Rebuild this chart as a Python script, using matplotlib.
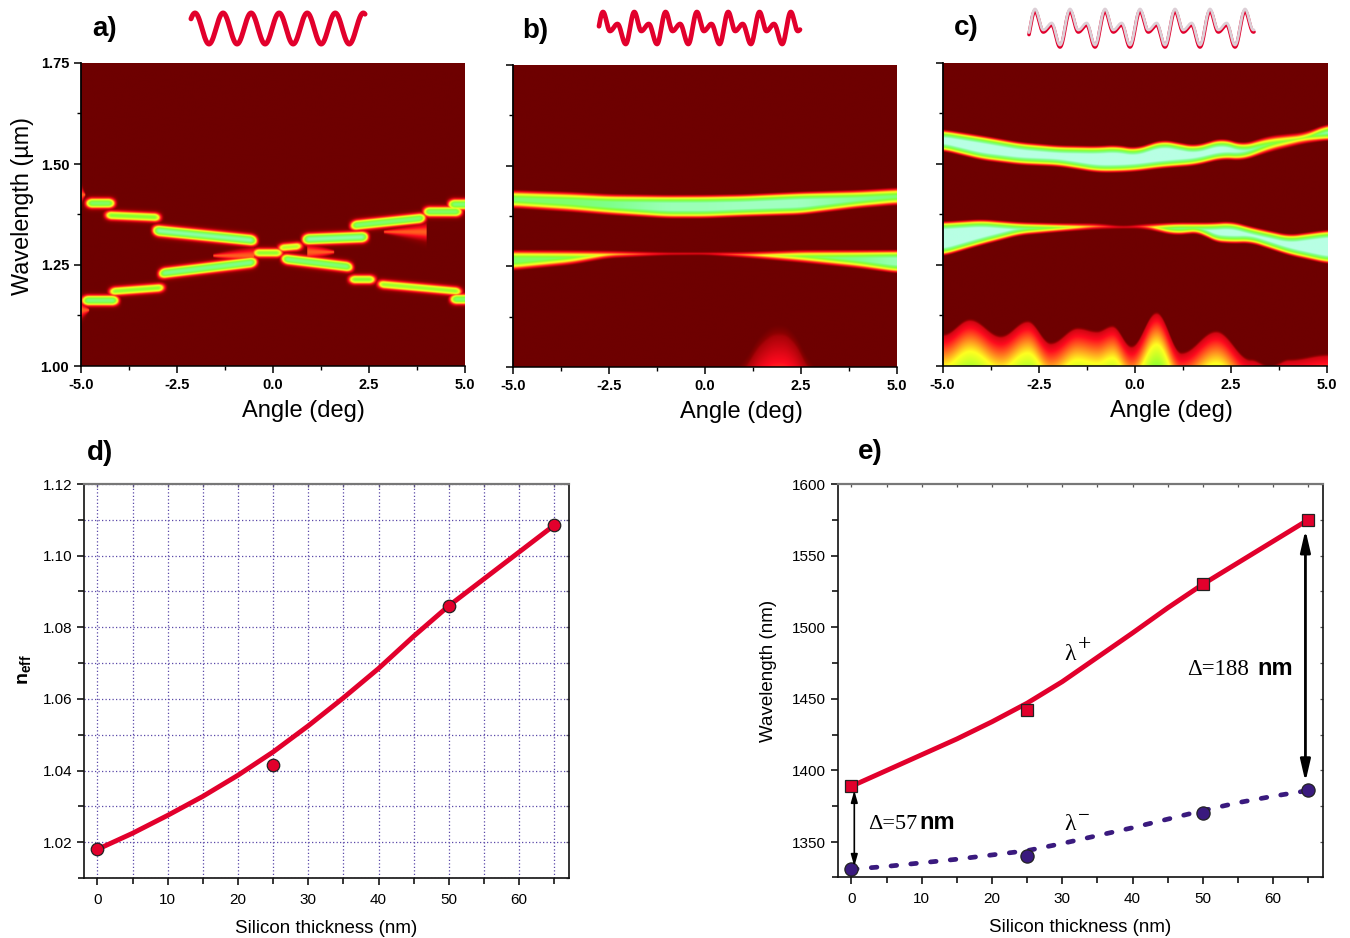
import numpy as np
import matplotlib
matplotlib.use('Agg')
import matplotlib.pyplot as plt
from matplotlib.colors import LinearSegmentedColormap
from matplotlib.ticker import MultipleLocator, FormatStrFormatter

plt.rcParams['font.family'] = ['Liberation Sans', 'DejaVu Sans']
plt.rcParams['mathtext.fontset'] = 'custom'
plt.rcParams['mathtext.bf'] = 'Liberation Sans:bold'
plt.rcParams['mathtext.rm'] = 'Liberation Sans'

W, H = 1350, 938

# panel a: bright segments along the crossing branches
a_x0 = [-5.0, -4.5, -3.25, -3.1, -4.4, -5.1, -0.65, 0.0, 0.1, 0.65, 1.9, 3.8, 4.45, 1.85, 2.6, 4.5]
a_x1 = [-4.0, -2.8, -0.3, -0.3, -2.7, -3.9, 0.38, 0.9, 2.2, 2.6, 4.1, 5.05, 5.3, 2.8, 5.05, 5.3]
a_y0 = [1.403, 1.374, 1.337, 1.227, 1.183, 1.162, 1.280, 1.291, 1.267, 1.313, 1.346, 1.382, 1.400, 1.214, 1.204, 1.165]
a_y1 = [1.403, 1.367, 1.309, 1.259, 1.195, 1.162, 1.280, 1.298, 1.243, 1.320, 1.368, 1.382, 1.400, 1.214, 1.183, 1.165]
a_peak = [0.72, 0.6, 0.86, 0.8, 0.58, 0.76, 0.58, 0.52, 0.76, 0.86, 0.74, 0.72, 0.76, 0.6, 0.56, 0.72]
a_faint_x0 = [-1.55, 0.9, 2.9, -5.0, -5.0]
a_faint_x1 = [-0.5, 1.6, 4.0, -4.8, -4.9]
a_faint_y = [1.273, 1.282, 1.332, 1.138, 1.424]
a_faint_dir = [1, -1, 1, -1, -1]

# panel b: outer edges of the two bands
b_angle = [-5.0, -3.5, -2.5, -1.0, 0.0, 1.0, 2.5, 4.0, 5.0]
b_up_top = [1.4396, 1.435, 1.4296, 1.4272, 1.4275, 1.429, 1.4354, 1.4396, 1.4454]
b_up_bot = [1.394, 1.385, 1.3775, 1.369, 1.369, 1.373, 1.3775, 1.394, 1.402]
b_low_top = [1.2906, 1.2900, 1.289, 1.2848, 1.2848, 1.2856, 1.2906, 1.2906, 1.2906]
b_low_bot = [1.2392, 1.2533, 1.2699, 1.2773, 1.2781, 1.2715, 1.2591, 1.245, 1.2326]
b_up_peak = [0.72, 0.74, 0.8, 0.9, 0.9, 0.92, 0.92, 0.82, 0.75]
b_low_peak = [0.7, 0.7, 0.7, 0.7, 0.7, 0.75, 0.75, 0.8, 0.9]
b_glow_angle = [0.95, 1.2, 1.55, 1.95, 2.3, 2.55, 2.75]
b_glow_top = [0.0, 0.05, 0.095, 0.1126, 0.095, 0.055, 0.0]

# panel c: edges of the two bands and the glow at short wavelength
c_up_angle = [-5.0, -4.0, -3.0, -2.0, -1.0, -0.5, 0.0, 0.7, 1.55, 2.25, 2.8, 3.5, 4.4, 5.0]
c_up_top = [1.5856, 1.5707, 1.5541, 1.5459, 1.5442, 1.5475, 1.5392, 1.5607, 1.5458, 1.5648, 1.5499, 1.5706, 1.5789, 1.5995]
c_up_bot = [1.5326, 1.5095, 1.4979, 1.4938, 1.4789, 1.4789, 1.4814, 1.4896, 1.4959, 1.5120, 1.5086, 1.5301, 1.5508, 1.5590]
c_up_peak = [1.0, 1.0, 1.0, 1.0, 1.0, 1.0, 1.0, 1.0, 1.0, 1.0, 0.95, 0.66, 0.68, 0.95]
c_low_angle = [-5.0, -4.0, -3.0, -2.0, -1.0, -0.3, 0.2, 1.0, 1.7, 2.0, 2.5, 3.0, 4.0, 5.0]
c_low_top = [1.3573, 1.3631, 1.3557, 1.3532, 1.3532, 1.3466, 1.3515, 1.3549, 1.3549, 1.3549, 1.3582, 1.3449, 1.3243, 1.3367]
c_low_bot = [1.2717, 1.2990, 1.3234, 1.3318, 1.3384, 1.3400, 1.3400, 1.3235, 1.3293, 1.3070, 1.3028, 1.3045, 1.2734, 1.2527]
c_low_peak = [1.0, 1.0, 1.0, 1.0, 0.7, 0.6, 0.7, 1.0, 1.0, 1.0, 1.0, 1.0, 1.0, 1.0]
c_glow_angle = [-5.0, -4.3, -3.5, -2.8, -2.2, -1.5, -1.0, -0.6, -0.1, 0.55, 1.2, 2.1, 3.0, 3.5, 4.0, 5.0]
c_glow_top = [0.081, 0.118, 0.077, 0.114, 0.06, 0.097, 0.089, 0.102, 0.052, 0.135, 0.036, 0.089, 0.019, 0.0025, 0.019, 0.031]

# panel d
si_thick = [0, 25, 50, 65]
neff_pts = [1.018, 1.0415, 1.086, 1.1085]
line_thick = [0, 5, 10, 15, 20, 25, 30, 35, 40, 45, 50, 55, 60, 65]
neff_line = [1.018, 1.0225, 1.0275, 1.0328, 1.0387, 1.0452, 1.0525, 1.0603, 1.0685, 1.0775, 1.086, 1.0935, 1.101, 1.1085]

# panel e
lam_plus_pts = [1389, 1442, 1530, 1575]
lam_minus_pts = [1331, 1340, 1370, 1386]
lam_plus_line = [1389, 1400, 1411, 1422, 1434, 1447, 1462, 1479, 1496, 1513.5, 1530, 1545, 1560, 1575]
lam_minus_line = [1331, 1333, 1335.5, 1338, 1341, 1344, 1349, 1354.5, 1360, 1366, 1372, 1377.5, 1382, 1386]

# grating profiles above the maps: (offset within one period in px, y in px)
icon_a_t = [0.0, 14.0]
icon_a_y = [13, 44]
icon_b_t = [0.0, 7.0, 14.5, 22.7]
icon_b_y = [12, 31, 24, 44]
icon_c_t = [0.0, 8.3, 16.7, 25.0]
icon_c_y = [11, 32, 25, 47]

RED = '#e2002c'
BLUE = '#3a1a7e'
GRID = '#5a48a8'
DARK = '#6e0000'

heat = LinearSegmentedColormap.from_list('heat', [
    (0.0, DARK), (0.06, '#8a0000'), (0.2, '#ff0a1e'), (0.4, '#ffff20'),
    (0.6, '#84ff30'), (0.8, '#7dff8a'), (1.0, '#b8ffe4')])

ang = np.linspace(-5, 5, 801)
wav = np.linspace(1.0, 1.75, 901)
AA, YY = np.meshgrid(ang, wav)


def px_axes(left, right, top, bottom):
    return plt.axes([left / W, 1 - bottom / H, (right - left) / W, (bottom - top) / H])


def smooth(nodes_x, nodes_y, box=41):
    y = np.interp(ang, nodes_x, nodes_y)
    pad = box // 2
    y = np.concatenate([np.full(pad, y[0]), y, np.full(pad, y[-1])])
    return np.convolve(y, np.ones(box) / box, mode='valid')


def eased(x, xs, ys):
    # cosine easing between successive crests and troughs
    xs, ys = np.asarray(xs, dtype=float), np.asarray(ys, dtype=float)
    i = np.clip(np.searchsorted(xs, x) - 1, 0, len(xs) - 2)
    u = np.clip((x - xs[i]) / (xs[i + 1] - xs[i]), 0, 1)
    return ys[i] + (ys[i + 1] - ys[i]) * (1 - np.cos(np.pi * u)) / 2


def band(nodes, top, bot, peak):
    t = smooth(nodes, top)[None, :]
    b = smooth(nodes, bot)[None, :]
    p = smooth(nodes, peak)[None, :]
    dist = np.minimum(YY - b, t - YY) + 0.002
    return p * np.clip(dist / 0.022, 0, 1)


def glow(t, base, slope, soft):
    d = t[None, :] - (YY - 1.0)
    return np.clip(d / soft, 0, 1) * (base + slope * np.clip(d, 0, None))


def smoothstep(u):
    u = np.clip(u, 0, 1)
    return u * u * (3 - 2 * u)


def field_a():
    z = np.zeros_like(AA)
    for x0, x1, y0, y1, p in zip(a_x0, a_x1, a_y0, a_y1, a_peak):
        c = y0 + (y1 - y0) * np.clip((AA - x0) / (x1 - x0), 0, 1)
        win = smoothstep((AA - x0) / 0.3) * smoothstep((x1 - AA) / 0.3)
        z = np.maximum(z, p * win * np.exp(-((YY - c) / (0.0075 + 0.006 * p)) ** 2))
    for x0, x1, y, d in zip(a_faint_x0, a_faint_x1, a_faint_y, a_faint_dir):
        u = np.clip((AA - x0) / (x1 - x0), 0, 1)
        u = u if d > 0 else 1 - u
        inside = (AA >= x0) & (AA <= x1)
        z = np.maximum(z, 0.27 * inside * np.exp(-((YY - y) / (0.004 + 0.018 * u)) ** 2))
    return z


def field_b():
    z = np.maximum(band(b_angle, b_up_top, b_up_bot, b_up_peak),
                   band(b_angle, b_low_top, b_low_bot, b_low_peak))
    return np.maximum(z, glow(smooth(b_glow_angle, b_glow_top), 0.05, 1.6, 0.03))


def field_c():
    z = np.maximum(band(c_up_angle, c_up_top, c_up_bot, c_up_peak),
                   band(c_low_angle, c_low_top, c_low_bot, c_low_peak))
    return np.maximum(z, glow(eased(ang, c_glow_angle, c_glow_top), 0.12, 3.4, 0.008))


def map_panel(box, z, ylabels, label_x):
    ax = px_axes(*box)
    ax.imshow(z, origin='lower', extent=[-5, 5, 1.0, 1.75], aspect='auto',
              cmap=heat, vmin=0, vmax=1, interpolation='bilinear')
    ax.set_xlim(-5, 5)
    ax.set_ylim(1.0, 1.75)
    ax.set_xticks([-5, -2.5, 0, 2.5, 5])
    ax.set_yticks([1.0, 1.25, 1.5, 1.75])
    ax.xaxis.set_major_formatter(FormatStrFormatter('%.1f'))
    ax.yaxis.set_major_formatter(FormatStrFormatter('%.2f'))
    ax.set_xticks([-3.75, -1.25, 1.25, 3.75], minor=True)
    ax.set_yticks([1.125, 1.375, 1.625], minor=True)
    ax.tick_params(which='major', length=5, width=1.1, labelsize=10.5)
    ax.tick_params(which='minor', length=3, width=1)
    ax.tick_params(axis='y', labelleft=ylabels)
    for lab in ax.get_xticklabels() + ax.get_yticklabels():
        lab.set_fontweight('bold')
    for s in ['top', 'right']:
        ax.spines[s].set_visible(False)
    ax.spines['left'].set_linewidth(1.3)
    ax.spines['bottom'].set_linewidth(1.1)
    ax.set_xlabel('Angle (deg)', fontsize=17, labelpad=6)
    ax.xaxis.label.set_x(label_x)
    return ax


def style_line_axes(ax, y_major, y_minor):
    ax.set_xlim(-1.92, 67.1)
    ax.set_xticks(range(0, 61, 10))
    ax.xaxis.set_minor_locator(MultipleLocator(5))
    ax.set_yticks(y_major)
    ax.set_yticks(y_minor, minor=True)
    ax.tick_params(which='both', labelsize=11, width=1.1)
    ax.tick_params(axis='x', which='both', pad=6)
    ax.tick_params(which='major', length=5)
    ax.tick_params(which='minor', length=4)
    ax.set_xlabel('Silicon thickness (nm)', fontsize=13.5, labelpad=9)
    # inward ticks on the far sides, outward ones on the labelled sides
    top = ax.secondary_xaxis('top')
    top.set_xticks(list(range(0, 66, 5)))
    top.tick_params(direction='in', length=2.5, width=0.9, color='#555555', labeltop=False)
    top.spines['top'].set_visible(False)
    right = ax.secondary_yaxis('right')
    right.set_yticks(sorted(list(y_major) + list(y_minor)))
    right.tick_params(direction='in', length=2.5, width=0.9, color='#555555', labelright=False)
    right.spines['right'].set_visible(False)
    for s in ax.spines.values():
        s.set_linewidth(1.2)
        s.set_color('#111111')
    ax.spines['top'].set_color('#777777')
    ax.spines['top'].set_linewidth(1.6)


fig = plt.figure(figsize=(W / 100, H / 100), dpi=100)

# maps
ax_a = map_panel((81, 465, 63, 366), field_a(), True, 0.58)
ax_a.set_ylabel('Wavelength (\u00b5m)', fontsize=16.8)
ax_a.yaxis.set_label_coords(-0.122, 0.528)
map_panel((513, 897, 65, 367), field_b(), False, 0.594)
map_panel((942.5, 1327, 63, 366), field_c(), False, 0.595)

# panel d
ax_d = px_axes(84, 569, 484, 878)
style_line_axes(ax_d, [1.02, 1.04, 1.06, 1.08, 1.10, 1.12], [1.01, 1.03, 1.05, 1.07, 1.09, 1.11])
ax_d.set_ylim(1.01, 1.12)
ax_d.yaxis.set_major_formatter(FormatStrFormatter('%.2f'))
ax_d.grid(which='both', color=GRID, linestyle=(0, (1, 1.8)), linewidth=0.9)
ax_d.set_axisbelow(True)
ax_d.plot(line_thick, neff_line, color=RED, lw=3.5, solid_capstyle='round')
ax_d.plot(si_thick, neff_pts, 'o', color=RED, ms=9, mec='#222222', mew=0.9, clip_on=False)
ax_d.set_ylabel(r'$\mathbf{n_{eff}}$', fontsize=14)
ax_d.yaxis.set_label_coords(-0.105, 0.528)

# panel e
ax_e = px_axes(838, 1323, 484, 877)
style_line_axes(ax_e, [1350, 1400, 1450, 1500, 1550, 1600], [1325.6, 1375, 1425, 1475, 1525, 1575])
ax_e.set_ylim(1325.6, 1600)
ax_e.plot(line_thick, lam_plus_line, color=RED, lw=3.5, solid_capstyle='round')
ax_e.plot(line_thick, lam_minus_line, color=BLUE, lw=3.4, linestyle=(0, (1.2, 3.0)),
          dash_capstyle='round')
ax_e.plot(si_thick, lam_plus_pts, 's', color=RED, ms=9, mec='#222222', mew=0.9, clip_on=False)
ax_e.plot(si_thick, lam_minus_pts, 'o', color=BLUE, ms=9.5, mec='#222222', mew=0.9, clip_on=False)
ax_e.set_ylabel('Wavelength (nm)', fontsize=13.5)
ax_e.yaxis.set_label_coords(-0.125, 0.524)
ax_e.annotate('', xy=(0.4, 1333), xytext=(0.4, 1386),
              arrowprops=dict(arrowstyle='<|-|>,head_width=0.2,head_length=0.7', color='black',
                              lw=1.2, shrinkA=0, shrinkB=0))
ax_e.annotate('', xy=(64.6, 1392), xytext=(64.6, 1568),
              arrowprops=dict(arrowstyle='<|-|>,head_width=0.3,head_length=1.3', color='black',
                              lw=2.0, shrinkA=0, shrinkB=0))
SERIF = 'Liberation Serif'
ax_e.text(47.7, 1466.6, '\u0394=188', family=SERIF, fontsize=16.5, va='baseline')
ax_e.text(57.8, 1466.6, 'nm', fontsize=17, fontweight='bold', va='baseline')
ax_e.text(2.3, 1359, '\u0394=57', family=SERIF, fontsize=16, va='baseline')
ax_e.text(9.7, 1359, 'nm', fontsize=17, fontweight='bold', va='baseline')
ax_e.text(30.3, 1477, '\u03bb', family=SERIF, fontsize=17, va='baseline')
ax_e.text(32.2, 1484, '+', family=SERIF, fontsize=17, va='baseline')
ax_e.text(30.3, 1358.4, '\u03bb', family=SERIF, fontsize=17, va='baseline')
ax_e.text(32.2, 1365, '\u2212', family=SERIF, fontsize=15, va='baseline')

# overlay in pixel units for panel letters and the grating sketches
ov = fig.add_axes([0, 0, 1, 1], zorder=5)
ov.set_xlim(0, W)
ov.set_ylim(H, 0)
ov.axis('off')
for label, x, y in [('a)', 92, 29), ('b)', 522, 31), ('c)', 954, 28), ('d)', 87, 453), ('e)', 858, 452)]:
    ov.text(x, y, label, fontsize=20, fontweight='bold', va='center')


def grating(first_crest, x_start, x_end, period, nodes_t, nodes_y):
    ts, ys = [], []
    n = int(np.ceil((x_end - first_crest) / period)) + 1
    for k in range(-1, n):
        for t, y in zip(nodes_t, nodes_y):
            ts.append(first_crest + k * period + t)
            ys.append(y)
    x = np.linspace(x_start, x_end, 700)
    return x, eased(x, ts, ys)


x, y = grating(195, 191, 365, 28.05, icon_a_t, icon_a_y)
ov.plot(x, y, color=RED, lw=3.6, solid_capstyle='round')
x, y = grating(603, 599, 800, 31.3, icon_b_t, icon_b_y)
ov.plot(x, y, color=RED, lw=3.4, solid_capstyle='round')
x, y = grating(1035, 1029, 1254, 35.0, icon_c_t, icon_c_y)
ov.plot(x, y, color=RED, lw=2.6, solid_capstyle='round')
ov.plot(x, y - 2, color='#dccfd6', lw=2.0, solid_capstyle='round')

fig.savefig('out.png', dpi=100)
